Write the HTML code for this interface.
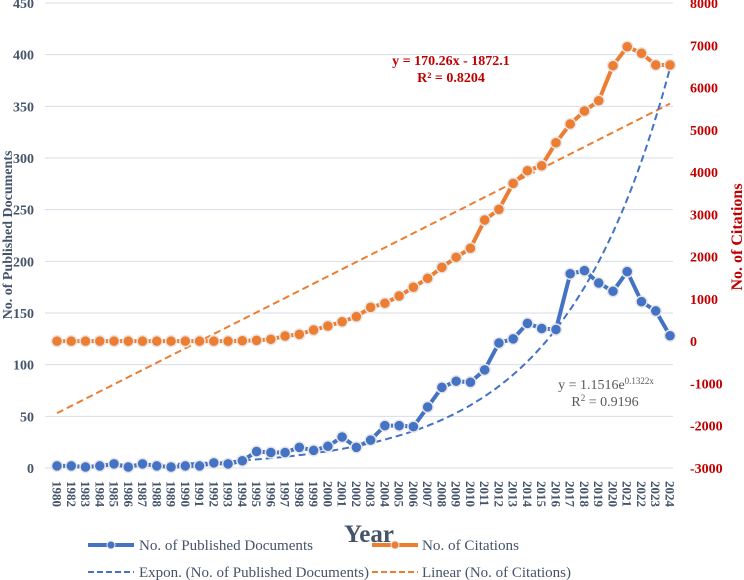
<!DOCTYPE html>
<html><head><meta charset="utf-8"><style>
body{margin:0;background:#fff;width:744px;height:580px;overflow:hidden;position:relative}
svg{display:block;font-family:"Liberation Serif",serif}
</style></head><body>
<svg id="c" width="744" height="580"></svg>
<script>
const years=[1980,1982,1983,1984,1985,1986,1987,1988,1989,1990,1991,1992,1993,1994,1995,1996,1997,1998,1999,2000,2001,2002,2003,2004,2005,2006,2007,2008,2009,2010,2011,2012,2013,2014,2015,2016,2017,2018,2019,2020,2021,2022,2023,2024];
const docs=[2,2,1,2,4,1,4,2,1,2,2,5,4,7,16,15,15,20,17,21,30,20,27,41,41,40,59,78,84,83,95,121,125,140,135,134,188,191,179,171,190,161,152,128];
const cites=[0,0,0,0,0,0,0,0,0,0,0,0,0,10,20,44,122,162,264,359,460,580,800,896,1069,1275,1487,1747,1984,2197,2866,3119,3734,4033,4151,4695,5137,5445,5689,6517,6966,6810,6533,6533];
const leftTicks=[0,50,100,150,200,250,300,350,400,450];
const rightTicks=[-3000,-2000,-1000,0,1000,2000,3000,4000,5000,6000,7000,8000];
const linA=170.26, linB=-1872.1, expA=1.1516, expB=0.1322;

const NS="http://www.w3.org/2000/svg", svg=document.getElementById('c');
const X0=57, XS=(670-57)/43;
const x=i=>X0+i*XS;
const yL=v=>468-v*(465/450);
const yR=v=>3+(8000-v)*(465/11000);
function el(t,a,p){const e=document.createElementNS(NS,t);for(const k in a)e.setAttribute(k,a[k]);(p||svg).appendChild(e);return e;}

leftTicks.forEach(v=>{
 const g=el('line',{x1:45,x2:673,y1:yL(v),y2:yL(v),stroke:'#d9dde6','stroke-width':1});
 
 
 const t=el('text',{x:34,y:yL(v)+5,'text-anchor':'end','font-size':14,'font-weight':'bold',fill:'#44546a'});
 t.textContent=v;
 
 
});
rightTicks.forEach(v=>{
 const t=el('text',{x:690,y:yR(v)+5,'font-size':14,'font-weight':'bold',fill:'#c00000'});
 t.textContent=v;
 
 
});
years.forEach((yr,i)=>{
 const t=el('text',{x:0,y:0,'font-size':13,'font-weight':'bold',fill:'#44546a',transform:`translate(${x(i)-4.5},481) rotate(90)`});
 t.textContent=yr;
 
 
});
let dl='',de='';
for(let i=0;i<years.length;i++){dl+=(i?'L':'M')+x(i)+','+yR(linA*(i+1)+linB);}
for(let k=0;k<=43*4;k++){const i=k/4;de+=(k?'L':'M')+x(i).toFixed(1)+','+yL(expA*Math.exp(expB*(i+1))).toFixed(1);}
const tl=el('path',{d:dl,fill:'none',stroke:'#ed7d31','stroke-width':2,'stroke-dasharray':'7,4'});


const te=el('path',{d:de,fill:'none',stroke:'#4472c4','stroke-width':2,'stroke-dasharray':'7,4'});


function series(vals,yf,col,name){
 let d='';vals.forEach((v,i)=>d+=(i?'L':'M')+x(i)+','+yf(v));
 const p=el('path',{d:d,fill:'none',stroke:col,'stroke-width':4,'stroke-linejoin':'round'});
 
 
 vals.forEach((v,i)=>{
  const c=el('circle',{cx:x(i),cy:yf(v),r:5.5,fill:col,stroke:'#e6e6e6','stroke-width':1.5});
  
  
 });
}
series(cites,yR,'#ed7d31','citations');
series(docs,yL,'#4472c4','documents');
</script>
<svg width="744" height="580" style="position:absolute;left:0;top:0">
<text x="0" y="0" transform="translate(12,235) rotate(-90)" text-anchor="middle" font-size="14" font-weight="bold" fill="#44546a">No. of Published Documents</text>
<text x="0" y="0" transform="translate(742,237) rotate(-90)" text-anchor="middle" font-size="16" font-weight="bold" fill="#c00000">No. of Citations</text>
<text x="369" y="542" text-anchor="middle" font-size="25" font-weight="bold" fill="#44546a">Year</text>
<text x="451" y="65" text-anchor="middle" font-size="14" font-weight="bold" fill="#c00000">y = 170.26x - 1872.1</text>
<text x="451" y="82" text-anchor="middle" font-size="14" font-weight="bold" fill="#c00000">R² = 0.8204</text>
<text x="606" y="389" text-anchor="middle" font-size="14" fill="#595959">y = 1.1516e<tspan font-size="9" dy="-5">0.1322x</tspan></text>
<text x="605" y="406" text-anchor="middle" font-size="14" fill="#595959">R<tspan font-size="9" dy="-5">2</tspan><tspan dy="5"> = 0.9196</tspan></text>
<g font-size="15" fill="#44546a">
 <g><line x1="88" x2="134" y1="545" y2="545" stroke="#4472c4" stroke-width="4"/><circle cx="111" cy="545" r="4" fill="#4472c4" stroke="#e6e6e6"/><text x="139" y="550" textLength="174" lengthAdjust="spacingAndGlyphs">No. of Published Documents</text></g>
 <g><line x1="372" x2="418" y1="545" y2="545" stroke="#ed7d31" stroke-width="4"/><circle cx="395" cy="545" r="4" fill="#ed7d31" stroke="#e6e6e6"/><text x="422" y="550" textLength="97" lengthAdjust="spacingAndGlyphs">No. of Citations</text></g>
 <g><line x1="88" x2="134" y1="572" y2="572" stroke="#4472c4" stroke-width="2" stroke-dasharray="6,3"/><text x="139" y="577" textLength="230" lengthAdjust="spacingAndGlyphs">Expon. (No. of Published Documents)</text></g>
 <g><line x1="372" x2="418" y1="572" y2="572" stroke="#ed7d31" stroke-width="2" stroke-dasharray="6,3"/><text x="422" y="577" textLength="149" lengthAdjust="spacingAndGlyphs">Linear (No. of Citations)</text></g>
</g>
</svg>
</body></html>
